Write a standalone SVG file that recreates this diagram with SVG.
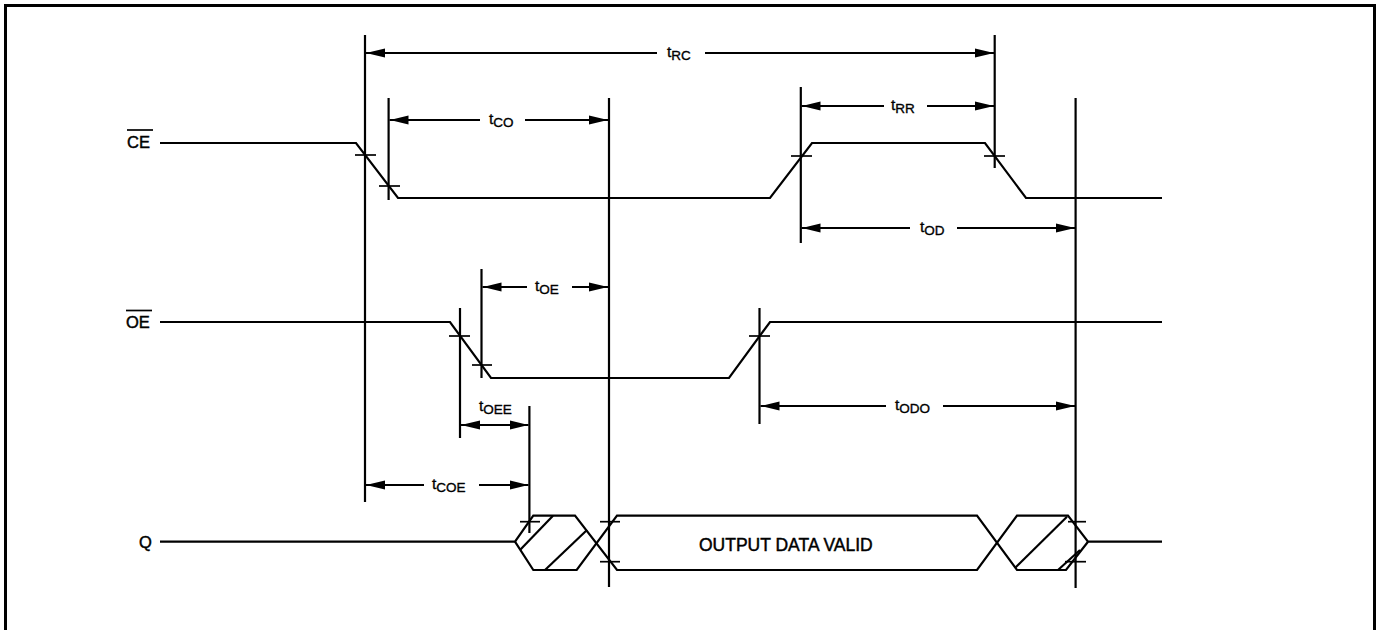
<svg xmlns="http://www.w3.org/2000/svg" width="1380" height="630" viewBox="0 0 1380 630">
<defs>
<marker id="ah" markerUnits="userSpaceOnUse" markerWidth="19" markerHeight="10" refX="19" refY="5" orient="auto" viewBox="0 0 19 10">
<path d="M0,0.5 L19,5 L0,9.5 z" fill="#000"/>
</marker>
</defs>
<style>
.w{fill:none;stroke:#000;stroke-width:2.2;stroke-linejoin:miter}
.v{stroke:#000;stroke-width:2.2}
.tk{stroke:#000;stroke-width:1.7}
.dim{stroke:#000;stroke-width:2;marker-end:url(#ah)}
.lbl{font-family:"Liberation Sans",Arial,sans-serif;font-size:16.5px;fill:#000;stroke:#000;stroke-width:0.45}
.t{font-family:"Liberation Sans",Arial,sans-serif;font-size:15.5px;fill:#000;stroke:#000;stroke-width:0.35}
.sub{font-size:13.5px}
.hatch{stroke:#000;stroke-width:2.2}
</style>
<rect id="border" x="5.5" y="5.5" width="1369" height="640" fill="#fff" stroke="#000" stroke-width="3"/>

<g id="signal-ce">
<text class="lbl" x="127" y="148">CE</text>
<line class="tk" x1="127" y1="130" x2="153" y2="130"/>
<polyline class="w" points="160,143 356,143 398,198 770,198 812,143 985,143 1026,198 1162,198"/>
<line class="tk" x1="355" y1="155" x2="376" y2="155"/>
<line class="tk" x1="379" y1="186" x2="400" y2="186"/>
<line class="tk" x1="791" y1="156" x2="812" y2="156"/>
<line class="tk" x1="984" y1="156" x2="1005" y2="156"/>
</g>

<g id="signal-oe">
<text class="lbl" x="126" y="328">OE</text>
<line class="tk" x1="126" y1="310.5" x2="152" y2="310.5"/>
<polyline class="w" points="160,322 450,322 491,378 729,378 770,322 1162,322"/>
<line class="tk" x1="449" y1="336" x2="470" y2="336"/>
<line class="tk" x1="472" y1="365" x2="492" y2="365"/>
<line class="tk" x1="749" y1="336" x2="770" y2="336"/>
</g>

<g id="signal-q">
<text class="lbl" x="139" y="548">Q</text>
<path class="w" d="M160,541.7 H515 L533.3,515.7 H575 L617,570 H977 L1017,515.7 H1068 L1088,541.7 H1162"/>
<path class="w" d="M515,541.7 L533.3,570 H576.7 L617,515.7 H977 L1017,570 H1066 L1088,541.7"/>
<line class="hatch" x1="520" y1="550" x2="553" y2="515.7"/>
<line class="hatch" x1="545" y1="570" x2="587" y2="530"/>
<line class="hatch" x1="1015" y1="568" x2="1067" y2="516.7"/>
<line class="hatch" x1="1058" y1="570" x2="1080" y2="550"/>
<line class="tk" x1="520" y1="521.7" x2="540" y2="521.7"/>
<line class="tk" x1="600" y1="521.7" x2="620" y2="521.7"/>
<line class="tk" x1="600" y1="561.7" x2="620" y2="561.7"/>
<line class="tk" x1="1068" y1="521.7" x2="1086" y2="521.7"/>
<line class="tk" x1="1065" y1="561.7" x2="1086" y2="561.7"/>
<text class="lbl" x="699" y="551" style="font-size:17.5px">OUTPUT DATA VALID</text>
</g>

<g id="connectors">
<line class="v" x1="365" y1="35" x2="365" y2="502"/>
<line class="v" x1="388.6" y1="98" x2="388.6" y2="200"/>
<line class="v" x1="609" y1="98" x2="609" y2="587"/>
<line class="v" x1="994.7" y1="35" x2="994.7" y2="168"/>
<line class="v" x1="800.8" y1="87" x2="800.8" y2="243"/>
<line class="v" x1="1075.6" y1="98" x2="1075.6" y2="588"/>
<line class="v" x1="460" y1="308" x2="460" y2="438"/>
<line class="v" x1="481.5" y1="269" x2="481.5" y2="378"/>
<line class="v" x1="759.5" y1="308" x2="759.5" y2="424"/>
<line class="v" x1="529.4" y1="406" x2="529.4" y2="533"/>

<line class="dim" x1="657" y1="53" x2="366" y2="53"/>
<line class="dim" x1="705" y1="53" x2="994" y2="53"/>
<line class="dim" x1="480" y1="120" x2="389.5" y2="120"/>
<line class="dim" x1="525" y1="120" x2="608" y2="120"/>
<line class="dim" x1="884" y1="106" x2="801.5" y2="106"/>
<line class="dim" x1="927" y1="106" x2="994" y2="106"/>
<line class="dim" x1="910" y1="228" x2="801.5" y2="228"/>
<line class="dim" x1="957" y1="228" x2="1075" y2="228"/>
<line class="dim" x1="527" y1="287" x2="482.5" y2="287"/>
<line class="dim" x1="572" y1="287" x2="608" y2="287"/>
<line class="dim" x1="886" y1="406" x2="760.5" y2="406"/>
<line class="dim" x1="943" y1="406" x2="1075" y2="406"/>
<line class="dim" x1="495" y1="425" x2="461" y2="425"/>
<line class="dim" x1="494" y1="425" x2="528.5" y2="425"/>
<line class="dim" x1="424" y1="485" x2="366" y2="485"/>
<line class="dim" x1="479" y1="485" x2="528.5" y2="485"/>

<text class="t" x="667" y="57">t<tspan class="sub" dy="3">RC</tspan></text>
<text class="t" x="489" y="124">t<tspan class="sub" dy="3">CO</tspan></text>
<text class="t" x="891" y="110">t<tspan class="sub" dy="3">RR</tspan></text>
<text class="t" x="920" y="232">t<tspan class="sub" dy="3">OD</tspan></text>
<text class="t" x="535" y="291">t<tspan class="sub" dy="3">OE</tspan></text>
<text class="t" x="895" y="410">t<tspan class="sub" dy="3">ODO</tspan></text>
<text class="t" x="479" y="411">t<tspan class="sub" dy="3">OEE</tspan></text>
<text class="t" x="432" y="489">t<tspan class="sub" dy="3">COE</tspan></text>
</g>
</svg>
